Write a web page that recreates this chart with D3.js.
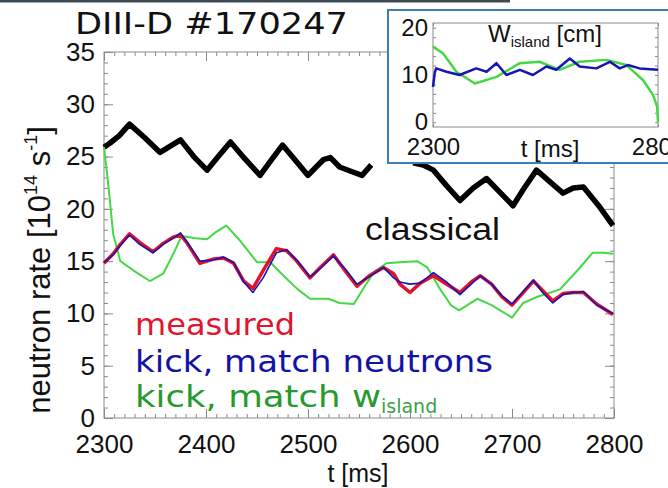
<!DOCTYPE html>
<html><head><meta charset="utf-8">
<script src="https://cdn.jsdelivr.net/npm/d3@7"></script>
<style>
html,body{margin:0;padding:0;background:#fff;}
svg{display:block;}
</style></head>
<body>
<svg id="c" width="668" height="488"></svg>
<script>
// ---------- data ----------
// null = no data (gap in the classical trace)
const classicalT = [2300,2306,2315,2325,2340,2355,2365,2375,2388,2401,2412,2424,2438,2453,2465,2475,2488,2500,2508,2515,2522,2531,2542,2553,2562,2580,2603,2613,2623,2636,2649,2662,2675,2688,2701,2712,2724,2737,2750,2760,2770,2785,2799];
const classicalV = [25.9,26.3,27.0,28.1,26.8,25.4,26.0,26.6,25.0,23.7,25.0,26.4,24.8,23.2,24.8,26.1,24.6,23.2,24.0,24.7,24.9,24.0,23.6,23.2,24.2,null,24.4,24.2,23.7,22.2,20.8,22.0,22.9,21.6,20.3,22.0,23.7,22.6,21.5,22.0,22.1,20.3,18.4];

const measT = [2300,2309,2316,2325,2335,2348,2358,2368,2375,2381,2394,2407,2417,2427,2437,2446,2456,2469,2479,2489,2502,2512,2525,2537,2548,2560,2574,2584,2590,2600,2610,2623,2636,2649,2660,2669,2680,2690,2700,2711,2721,2730,2740,2750,2760,2770,2783,2799];
const measuredV = [14.8,15.7,16.6,17.6,16.8,15.9,16.7,17.3,17.5,16.8,14.8,15.2,15.3,14.8,13.1,12.4,14.1,16.2,16.0,15.0,13.4,14.4,15.6,14.0,12.6,13.6,14.4,13.8,12.8,12.0,12.9,13.6,12.8,12.0,13.0,13.6,12.8,11.6,10.8,12.0,13.1,12.2,11.2,11.9,12.0,12.0,10.9,9.9];
const kickNeutronsV = [14.9,15.6,16.5,17.5,16.6,15.8,16.6,17.2,17.7,16.9,15.0,15.1,15.4,14.9,13.0,12.0,13.4,15.8,16.1,15.1,13.5,14.3,15.5,14.2,12.8,13.5,14.4,13.4,13.0,12.8,12.9,13.9,13.0,11.8,12.8,13.6,12.8,11.7,10.9,12.1,13.2,12.0,11.0,11.8,12.0,12.1,10.8,10.0];

const kickIslandT = [2300,2304,2309,2316,2329,2345,2358,2368,2376,2390,2401,2410,2420,2433,2450,2463,2476,2490,2502,2520,2531,2545,2555,2565,2577,2590,2607,2617,2629,2640,2648,2666,2680,2700,2711,2725,2747,2765,2779,2790,2799];
const kickIslandV = [25.9,22.5,17.6,15.0,14.1,13.1,13.8,15.7,17.4,17.2,17.1,17.8,18.4,17.0,14.9,14.9,13.6,12.3,11.4,11.4,11.0,10.9,12.5,14.0,14.8,14.9,15.0,14.4,12.4,10.8,10.3,11.4,10.8,9.6,11.0,11.6,12.3,14.2,15.8,15.8,15.7];

// inset: island width [cm]
const insetBlueT = [2300,2304,2307,2330,2359,2396,2419,2441,2463,2493,2522,2552,2574,2604,2626,2663,2693,2715,2733,2759,2800];
const insetBlueV = [7.5,10.5,11.4,10.7,10.0,11.4,10.7,12.5,10.0,11.1,10.0,11.8,11.1,13.5,11.8,11.4,12.8,11.4,12.1,11.4,11.1];
const insetGreenT = [2300,2322,2352,2393,2441,2493,2537,2581,2626,2685,2730,2767,2789,2798,2800];
const insetGreenV = [16.0,14.6,10.7,8.2,9.6,12.5,12.8,11.1,12.8,13.2,12.1,8.9,5.8,3.3,0];

const xTicks = [2300,2400,2500,2600,2700,2800];
const yTicks = [0,5,10,15,20,25,30,35];
const insetYTicks = [0,10,20];
const insetXTicks = [2300,2800];

// ---------- drawing ----------
const svg = d3.select("#c");
const RED = "#e3122b", BLUE = "#1616b4", GREEN = "#44d844", BLACK = "#000";
const AX = "#8a8a8a";
const AR = "Liberation Sans, Arial, sans-serif";

svg.append("rect").attr("x",0).attr("y",0).attr("width",510).attr("height",2.5).attr("fill","#3d4b55");

const P = {l:104, r:614, t:52, b:418};
const x = d3.scaleLinear().domain([2300,2800]).range([P.l,P.r]);
const y = d3.scaleLinear().domain([0,35]).range([P.b,P.t]);

const g = svg.append("g");

function minorVals(lo,hi,step){const a=[];for(let v=lo;v<=hi+1e-9;v+=step)a.push(+v.toFixed(6));return a;}

function drawFrame(gg, xs, ys, xMaj, xMin, yMaj, yMin, majLen, minLen){
  const [x0,x1]=xs.range(), [y0,y1]=ys.range();
  gg.append("rect").attr("x",x0).attr("y",y1).attr("width",x1-x0).attr("height",y0-y1)
    .attr("fill","none").attr("stroke",AX).attr("stroke-width",1);
  const mk=(axisFn,scale,vals,len,tr)=>{
    const a=gg.append("g").attr("transform",tr)
      .call(axisFn(scale).tickValues(vals).tickSize(-len).tickFormat(""));
    a.select(".domain").remove();
    a.selectAll("line").attr("stroke",AX).attr("stroke-width",1);
  };
  mk(d3.axisBottom,xs,xMaj,majLen,`translate(0,${y0})`);
  mk(d3.axisBottom,xs,xMin,minLen,`translate(0,${y0})`);
  mk(d3.axisTop,xs,xMaj,majLen,`translate(0,${y1})`);
  mk(d3.axisTop,xs,xMin,minLen,`translate(0,${y1})`);
  mk(d3.axisLeft,ys,yMaj,majLen,`translate(${x0},0)`);
  mk(d3.axisLeft,ys,yMin,minLen,`translate(${x0},0)`);
  mk(d3.axisRight,ys,yMaj,majLen,`translate(${x1},0)`);
  mk(d3.axisRight,ys,yMin,minLen,`translate(${x1},0)`);
}
drawFrame(g,x,y,xTicks,minorVals(2300,2800,10),yTicks,minorVals(0,35,1),9,4);

// tick labels
const xl = g.append("g").attr("transform",`translate(0,${P.b})`)
  .call(d3.axisBottom(x).tickValues(xTicks).tickSize(0).tickPadding(17).tickFormat(d3.format("d")));
xl.select(".domain").remove();
xl.selectAll("text").attr("font-family",AR).attr("font-size",26).attr("fill","#111");
const yl = g.append("g").attr("transform",`translate(${P.l},0)`)
  .call(d3.axisLeft(y).tickValues(yTicks).tickSize(0).tickPadding(9).tickFormat(d3.format("d")));
yl.select(".domain").remove();
yl.selectAll("text").attr("font-family",AR).attr("font-size",26).attr("fill","#111");

// lines
const mkLine=(xs,ys)=>d3.line().defined(d=>d[1]!=null).x(d=>xs(d[0])).y(d=>ys(d[1]));
const zip=(a,b)=>a.map((v,i)=>[v,b[i]]);
const line = mkLine(x,y);
g.append("path").attr("d",line(zip(classicalT,classicalV))).attr("fill","none").attr("stroke",BLACK).attr("stroke-width",5.5).attr("stroke-linejoin","round");
g.append("path").attr("d",line(zip(kickIslandT,kickIslandV))).attr("fill","none").attr("stroke",GREEN).attr("stroke-width",2).attr("stroke-linejoin","round");
g.append("path").attr("d",line(zip(measT,measuredV))).attr("fill","none").attr("stroke",RED).attr("stroke-width",3.5).attr("stroke-linejoin","round");
g.append("path").attr("d",line(zip(measT,kickNeutronsV))).attr("fill","none").attr("stroke",BLUE).attr("stroke-width",1.6).attr("stroke-linejoin","round");

// title and labels
svg.append("text").attr("x",75).attr("y",34).attr("font-family","DejaVu Sans, Verdana, sans-serif")
  .attr("font-size",30).attr("fill","#111").attr("textLength",273).attr("lengthAdjust","spacingAndGlyphs")
  .text("DIII-D #170247");
svg.append("text").attr("x",358).attr("y",482).attr("text-anchor","middle")
  .attr("font-family",AR).attr("font-size",25).attr("fill","#111").text("t [ms]");
const yt = svg.append("text").attr("transform","translate(50,270) rotate(-90)").attr("text-anchor","middle")
  .attr("font-family",AR).attr("font-size",31).attr("fill","#111");
yt.append("tspan").text("neutron rate [10");
yt.append("tspan").attr("font-size",18).attr("dy",-13).text("14");
yt.append("tspan").attr("dy",13).text(" s");
yt.append("tspan").attr("font-size",18).attr("dy",-13).text("-1");
yt.append("tspan").attr("dy",13).text("]");

svg.append("text").attr("x",365).attr("y",240).attr("font-family",AR)
  .attr("font-size",31).attr("fill","#111").attr("textLength",135).attr("lengthAdjust","spacingAndGlyphs").text("classical");

const LF = "DejaVu Sans, Verdana, sans-serif";
svg.append("text").attr("x",135).attr("y",335).attr("font-family",LF).attr("font-size",31).attr("fill","#e01530")
  .attr("textLength",160).attr("lengthAdjust","spacingAndGlyphs").text("measured");
svg.append("text").attr("x",135).attr("y",372).attr("font-family",LF).attr("font-size",31).attr("fill","#1212a8")
  .attr("textLength",358).attr("lengthAdjust","spacingAndGlyphs").text("kick, match neutrons");
const lg = svg.append("text").attr("x",135).attr("y",407).attr("font-family",LF).attr("font-size",31).attr("fill","#279a2f");
lg.append("tspan").attr("textLength",246).attr("lengthAdjust","spacingAndGlyphs").text("kick, match w");
lg.append("tspan").attr("font-size",19).attr("dy",6).attr("fill","#3aa24a").text("island");

// ---------- inset ----------
const ig = svg.append("g");
ig.append("rect").attr("x",388).attr("y",10).attr("width",300).attr("height",153)
  .attr("fill","#fff").attr("stroke","#3a7fb6").attr("stroke-width",2);
const ix = d3.scaleLinear().domain([2300,2800]).range([433,658]);
const iy = d3.scaleLinear().domain([-1,21]).range([127,23]);
drawFrame(ig,ix,iy,[],minorVals(2300,2800,500),[],minorVals(0,20,2),0,3);
const iyl = ig.append("g").attr("transform","translate(433,0)")
  .call(d3.axisLeft(iy).tickValues(insetYTicks).tickSize(0).tickPadding(5).tickFormat(d3.format("d")));
iyl.select(".domain").remove();
iyl.selectAll("text").attr("font-family",AR).attr("font-size",24).attr("fill","#111");
const ixl = ig.append("g").attr("transform","translate(0,127)")
  .call(d3.axisBottom(ix).tickValues(insetXTicks).tickSize(0).tickPadding(11).tickFormat(d3.format("d")));
ixl.select(".domain").remove();
ixl.selectAll("text").attr("font-family",AR).attr("font-size",24).attr("fill","#111");
ig.append("text").attr("x",550).attr("y",157).attr("text-anchor","middle")
  .attr("font-family",AR).attr("font-size",24).attr("fill","#111").text("t [ms]");
const it = ig.append("text").attr("x",488).attr("y",42).attr("font-family",AR)
  .attr("font-size",24).attr("fill","#111");
it.append("tspan").text("W");
it.append("tspan").attr("font-size",15).attr("dy",5).text("island");
it.append("tspan").attr("dy",-5).text(" [cm]");
const iline = mkLine(ix,iy);
ig.append("path").attr("d",iline(zip(insetGreenT,insetGreenV))).attr("fill","none").attr("stroke",GREEN).attr("stroke-width",2.5).attr("stroke-linejoin","round");
ig.append("path").attr("d",iline(zip(insetBlueT,insetBlueV))).attr("fill","none").attr("stroke",BLUE).attr("stroke-width",2.5).attr("stroke-linejoin","round");
</script>
</body></html>
